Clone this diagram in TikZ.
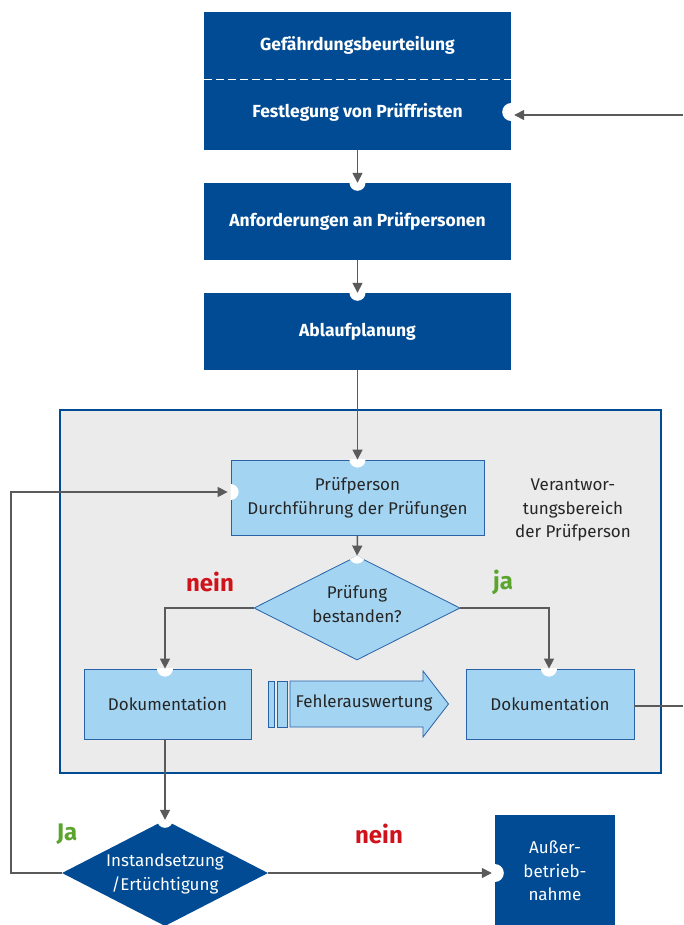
\documentclass[tikz,border=0pt]{standalone}
\usepackage{fontspec}
\setmainfont{Fira Sans}
\usetikzlibrary{shapes.geometric,arrows.meta}
\definecolor{dblue}{HTML}{004B93}
\definecolor{lblue}{HTML}{A3D4F2}
\definecolor{bblue}{HTML}{2A62A8}
\definecolor{bggray}{HTML}{EBEBEB}
\definecolor{agray}{HTML}{5A5A5A}
\definecolor{jagreen}{HTML}{5BA52E}
\definecolor{neinred}{HTML}{D0121B}
\tikzset{
  darkbox/.style={rectangle, fill=dblue, draw=none, inner sep=0pt},
  lightbox/.style={rectangle, fill=lblue, draw=bblue, line width=0.8pt, inner sep=0pt},
  boldtxt/.style={text=white, font=\fontsize{17.5}{21}\selectfont\bfseries, align=center, inner sep=0pt},
  regtxt/.style={text=black!85, font=\fontsize{17}{23.5}\selectfont, align=center, inner sep=0pt},
  wtxt/.style={text=white, font=\fontsize{17}{23.5}\selectfont, align=center, inner sep=0pt},
  lbl/.style={font=\fontsize{24}{26}\selectfont\bfseries, inner sep=0pt},
  conn/.style={draw=agray, line width=1.5pt, -{Triangle[length=10pt,width=10pt]}},
  plain/.style={draw=agray, line width=1.5pt},
  notch/.style={fill=white, draw=none}
}
\begin{document}
\begin{tikzpicture}[x=1pt,y=-1pt]
\useasboundingbox (0,0) rectangle (683,925);
% gray responsibility region
\draw[fill=bggray, draw=dblue, line width=1.5pt] (60,410) rectangle (661,773);

% top dark boxes
\node[darkbox, minimum width=307pt, minimum height=138pt] (top) at (357.5,81) {};
\draw[white, line width=1pt, dash pattern=on 8pt off 4pt] (top.west |- 0,80) -- (top.east |- 0,80);
\node[boldtxt] (gef) at (357.5,45) {Gefährdungsbeurteilung};
\node[boldtxt] (fest) at (357.5,112) {Festlegung von Prüffristen};
\node[darkbox, minimum width=307pt, minimum height=77pt] (anf) at (357.5,221.5) {};
\node[boldtxt] at (anf.center) {Anforderungen an Prüfpersonen};
\node[darkbox, minimum width=307pt, minimum height=77pt] (abl) at (357.5,331.5) {};
\node[boldtxt] at (abl.center) {Ablaufplanung};

% light boxes
\node[lightbox, minimum width=253pt, minimum height=75pt] (pp) at (357.5,497.5) {};
\node[regtxt] at (357.5,498) {Prüfperson\\Durchführung der Prüfungen};
\node[regtxt] (ver) at (573,510) {Verantwor-\\tungsbereich\\der Prüfperson};

\node[diamond, fill=lblue, draw=bblue, line width=0.8pt, inner sep=0pt, minimum width=206pt, minimum height=104pt] (d1) at (357,608) {};
\node[regtxt] at (357,604) {Prüfung\\bestanden?};

\node[lightbox, minimum width=167pt, minimum height=70pt] (docl) at (167.5,704) {};
\node[regtxt] at (docl.center) {Dokumentation};
\node[lightbox, minimum width=168pt, minimum height=70pt] (docr) at (550,704) {};
\node[regtxt] at (docr.center) {Dokumentation};

% Fehlerauswertung arrow
\draw[fill=lblue, draw=bblue, line width=0.8pt] (268.6,681) rectangle (274.5,727);
\draw[fill=lblue, draw=bblue, line width=0.8pt] (277,681) rectangle (287.6,727);
\draw[fill=lblue, draw=bblue, line width=0.8pt] (290,681) -- (423,681) -- (423,671) -- (448.5,704) -- (423,737) -- (423,727) -- (290,727) -- cycle;
\node[regtxt] (fehl) at (364,703) {Fehlerauswertung};

% bottom
\node[diamond, fill=dblue, draw=none, inner sep=0pt, minimum width=206pt, minimum height=106pt] (d2) at (165,873) {};
\node[wtxt] at (165,874) {Instandsetzung\\/Ertüchtigung};
\node[darkbox, minimum width=120pt, minimum height=112pt] (aus) at (555,871) {};
\node[wtxt] at (555,871) {Außer-\\betrieb-\\nahme};

% labels
\node[lbl, text=neinred] at (210,582) {nein};
\node[lbl, text=jagreen] at (503,582) {ja};
\node[lbl, text=jagreen] at (67,834) {Ja};
\node[lbl, text=neinred] at (379,834) {nein};

% notches
\begin{scope}\clip (top.south west) rectangle (top.north east);
  \fill[notch] (top.east |- fest) circle (9pt);\end{scope}
\begin{scope}\clip (anf.south west) rectangle (anf.north east);
  \fill[notch] (anf.north) circle (8pt);\end{scope}
\begin{scope}\clip (abl.south west) rectangle (abl.north east);
  \fill[notch] (abl.north) circle (8pt);\end{scope}
\begin{scope}\clip (pp.south west) rectangle (pp.north east);
  \fill[notch] (pp.north) circle (8pt);
  \fill[notch] (pp.west |- 0,492) circle (8pt);\end{scope}
\begin{scope}\clip (d1.north) -- (d1.east) -- (d1.south) -- (d1.west) -- cycle;
  \fill[notch] (d1.north) circle (8pt);\end{scope}
\begin{scope}\clip (docl.south west) rectangle (docl.north east);
  \fill[notch] (docl.north -| 165,0) circle (8pt);\end{scope}
\begin{scope}\clip (docr.south west) rectangle (docr.north east);
  \fill[notch] (docr.north -| 549,0) circle (8pt);\end{scope}
\begin{scope}\clip (d2.north) -- (d2.east) -- (d2.south) -- (d2.west) -- cycle;
  \fill[notch] (d2.north) circle (8pt);\end{scope}
\begin{scope}\clip (aus.south west) rectangle (aus.north east);
  \fill[notch] (aus.west |- d2) circle (9pt);\end{scope}

% connectors
\coordinate (rin) at (683,115);
\coordinate (rout) at (683,706);
\coordinate (lx) at (11,0);
\draw[conn, shorten >=3pt] (rin) -- (top.east |- rin);
\draw[conn] (top.south) -- (anf.north);
\draw[conn] (anf.south) -- (abl.north);
\draw[conn] (abl.south) -- (pp.north);
\draw[conn] (pp.south) -- (d1.north);
\draw[conn] (d1.west) -| (docl.north -| 165,0);
\draw[conn] (d1.east) -| (docr.north -| 549,0);
\draw[plain] (docr.east |- rout) -- (rout);
\draw[conn] (docl.south -| 165,0) -- (d2.north);
\draw[conn, shorten >=3pt] (d2.west) -- (lx |- d2.west) -- (lx |- 0,492) -- (pp.west |- 0,492);
\draw[conn, shorten >=3pt] (d2.east) -- (aus.west |- d2.east);
\end{tikzpicture}
\end{document}
